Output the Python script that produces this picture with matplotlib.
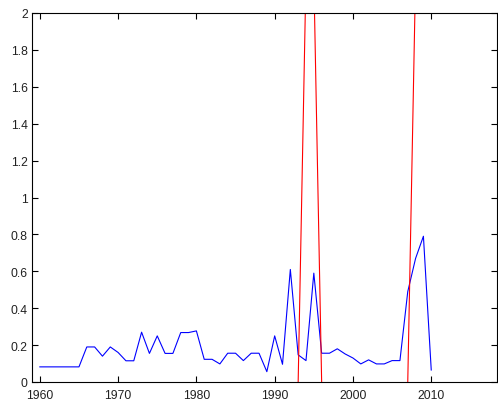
import numpy as np
import matplotlib.pyplot as plt

years = np.arange(1960, 2011)
ratio = [0.082, 0.082, 0.082, 0.082, 0.082, 0.082,   # 1960-1965
         0.19, 0.19, 0.14, 0.19, 0.16,                 # 1966-1970
         0.115, 0.115, 0.27, 0.155, 0.25,              # 1971-1975
         0.155, 0.155, 0.268, 0.268, 0.277,            # 1976-1980
         0.123, 0.123, 0.098, 0.156, 0.156,            # 1981-1985
         0.116, 0.156, 0.156, 0.056, 0.25,             # 1986-1990
         0.096, 0.61, 0.147, 0.116, 0.59,              # 1991-1995
         0.156, 0.156, 0.18, 0.152, 0.13,              # 1996-2000
         0.098, 0.12, 0.098, 0.098, 0.116,             # 2001-2005
         0.116, 0.49, 0.67, 0.79, 0.065]               # 2006-2010

# event markers, NaN where nothing is flagged
event_years = [1993, 1994, 1995, 1996, 1997, 2007, 2008]
event_vals = [0, 2.2, 2.2, 0, np.nan, 0, 2.2]

fig = plt.figure(figsize=(4.98, 4.02), dpi=100)
ax = fig.add_axes([32 / 498, 19 / 402, 465 / 498, 369 / 402])

ax.plot(years, ratio, color=(0, 0, 1), lw=0.8)
ax.plot(event_years, event_vals, color=(1, 0, 0), lw=0.8)

ax.set_xlim(1959, 2018.4)
ax.set_ylim(0, 2)
ax.set_xticks(np.arange(1960, 2011, 10))
yt = np.arange(0, 2.01, 0.2)
ax.set_yticks(yt)
ax.set_yticklabels(['%g' % round(v, 1) for v in yt])

ax.tick_params(direction='in', length=4, width=0.8, top=True, right=True,
               labelsize=8.7, labelcolor='#222222')
ax.tick_params(axis='x', pad=5)
ax.tick_params(axis='y', pad=3)
for s in ax.spines.values():
    s.set_linewidth(0.8)
for lbl in ax.get_xticklabels() + ax.get_yticklabels():
    lbl.set_family('Liberation Sans')

fig.savefig('out.png', dpi=100)
